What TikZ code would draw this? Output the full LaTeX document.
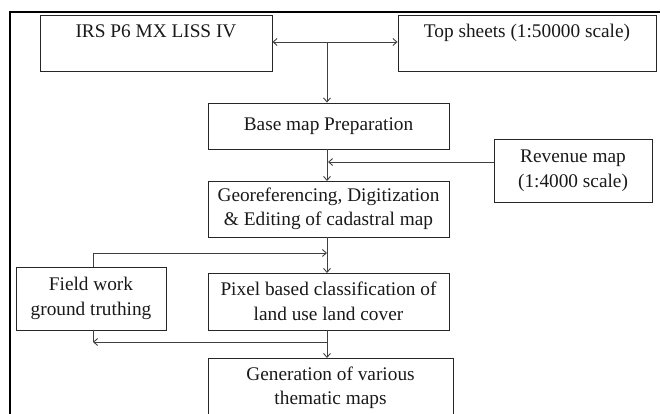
\documentclass[tikz,border=0pt]{standalone}
\usepackage{fontspec}
\setmainfont{Liberation Serif}
\usetikzlibrary{arrows.meta}
\begin{document}
\begin{tikzpicture}[x=1pt,y=-1pt,
  box/.style={draw=black!85,line width=0.9pt,inner sep=0pt,align=center,
    font=\fontsize{19.3}{24.5}\selectfont,text=black!90},
  conn/.style={draw=black!75,line width=0.9pt},
  arr/.style={conn,-{Straight Barb[length=4pt,width=7pt]}},
  frame/.style={draw=black,line width=1.8pt}]
\useasboundingbox (0,0) rectangle (660,414);
% outer frame (cropped)
\draw[frame] (10,430) -- (10,12) -- (670,12);
% boxes
\node[box,minimum width=232,minimum height=56] (irs) at (156,43) {IRS P6 MX LISS IV\\ \mbox{}};
\node[box,minimum width=258,minimum height=56] (top) at (527,43) {Top sheets (1:50000 scale)\\ \mbox{}};
\node[box,minimum width=241,minimum height=46] (base) at (328.5,126) {Base map Preparation};
\node[box,minimum width=158,minimum height=63] (rev) at (573,170.5) {Revenue map\\(1:4000 scale)};
\node[box,minimum width=241,minimum height=56] (geo) at (328.5,209) {Georeferencing, Digitization\\\& Editing of cadastral map};
\node[box,minimum width=150,minimum height=63] (field) at (91,298.5) {Field work\\ground truthing};
\node[box,minimum width=241,minimum height=57] (pix) at (328.5,301.5) {Pixel based classification of\\land use land cover};
\node[box,minimum width=245,minimum height=60] (gen) at (330.5,388) {Generation of various\\thematic maps};
% connectors
\coordinate (topmid) at (327,42);
\draw[conn,{Straight Barb[length=4pt,width=7pt]}-{Straight Barb[length=4pt,width=7pt]}] (irs.east |- topmid) -- (top.west |- topmid);
\draw[arr] (topmid) -- (topmid |- base.north);
\draw[arr] (327,149) -- (327,181);
\coordinate (revin) at (328,162);
\draw[arr] (rev.west |- revin) -- (revin);
\draw[arr] (327,237) -- (327,273);
\coordinate (loopt) at (327,253);
\draw[arr] (93,267) -- (93,253) -- (loopt);
\draw[arr] (327,330) -- (327,358);
\coordinate (loopb) at (93,342);
\draw[conn] (93,330) -- (loopb);
\draw[arr] (327,342) -- (loopb);
\end{tikzpicture}
\end{document}
